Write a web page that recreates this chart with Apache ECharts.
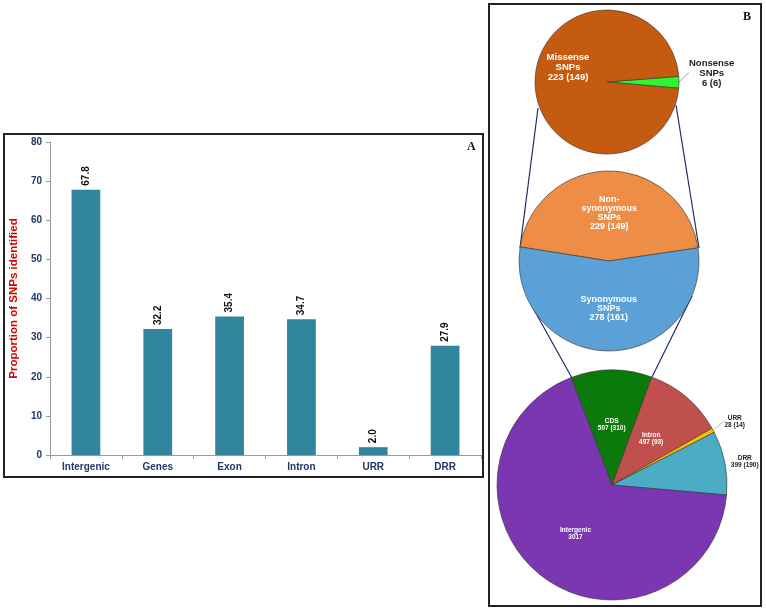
<!DOCTYPE html>
<html>
<head>
<meta charset="utf-8">
<script src="https://cdn.jsdelivr.net/npm/echarts@6/dist/echarts.min.js"></script>
<style>
html,body{margin:0;padding:0;background:#fff;}
#c{width:766px;height:612px;}
</style>
</head>
<body>
<div id="c"></div>
<script>
// ---- Panel A data ----
var barCategories = ['Intergenic', 'Genes', 'Exon', 'Intron', 'URR', 'DRR'];
var barValues = [67.8, 32.2, 35.4, 34.7, 2.0, 27.9];
var yTicks = [0, 10, 20, 30, 40, 50, 60, 70, 80];

// ---- Panel B data ----
var topNames = ['Nonsense\nSNPs', 'Missense\nSNPs'];
var topValues = [6, 223];
var topUnique = [6, 149];

var midNames = ['Non-\nsynonymous\nSNPs', 'Synonymous\nSNPs'];
var midValues = [229, 278];
var midUnique = [149, 161];

var botNames = ['CDS', 'Intron', 'URR', 'DRR', 'Intergenic'];
var botValues = [507, 497, 28, 399, 3017];
var botUnique = [310, 93, 14, 190, null];

var navy = '#1F3864';

function valText(v, u) { return u == null ? String(v) : v + ' (' + u + ')'; }

var chart = echarts.init(document.getElementById('c'));

var topColors = ['#2EF52E', '#C55A11'];
var midColors = ['#ED8D46', '#5BA0D7'];
var botColors = ['#0B7A0B', '#C0504D', '#FFC000', '#4BACC6', '#7B36B2'];

var topData = topNames.map(function (n, i) {
  var outside = i === 0;
  return {
    name: n, value: topValues[i],
    itemStyle: { color: topColors[i] },
    label: {
      position: outside ? 'outside' : 'inside',
      color: outside ? '#222' : '#fff',
      formatter: n + '\n' + valText(topValues[i], topUnique[i])
    },
    labelLine: { show: outside, length: 4, length2: 1, lineStyle: { color: '#888', width: 0.8 } }
  };
});

var midData = midNames.map(function (n, i) {
  return {
    name: n, value: midValues[i],
    itemStyle: { color: midColors[i] },
    label: { formatter: n + '\n' + valText(midValues[i], midUnique[i]) }
  };
});

var botData = botNames.map(function (n, i) {
  var outside = (n === 'URR' || n === 'DRR');
  return {
    name: n, value: botValues[i],
    itemStyle: { color: botColors[i] },
    label: {
      position: outside ? 'outside' : 'inside',
      color: outside ? '#222' : '#fff',
      formatter: n + '\n' + valText(botValues[i], botUnique[i])
    },
    labelLine: {
      show: n === 'URR', length: n === 'URR' ? 6 : 1, length2: n === 'URR' ? 1 : 0,
      lineStyle: { color: '#999', width: 0.7 }
    }
  };
});

function centerOutside(p, dy) {
  var r = p.labelRect;
  return { x: r.x + r.width / 2, y: r.y + r.height / 2 + dy, align: 'center', verticalAlign: 'middle' };
}

var lineStyle = { stroke: '#1F2D6B', lineWidth: 1.2 };

chart.setOption({
  animation: false,
  backgroundColor: '#fff',
  grid: { left: 47, right: 285, top: 142, bottom: 157, containLabel: false },
  xAxis: {
    type: 'category',
    data: barCategories,
    axisLine: { lineStyle: { color: '#999', width: 1 } },
    axisTick: { show: true, length: 4, alignWithLabel: false, lineStyle: { color: '#999' } },
    axisLabel: { color: navy, fontWeight: 'bold', fontSize: 10, fontFamily: 'Liberation Sans', margin: 7 }
  },
  yAxis: {
    type: 'value', min: yTicks[0], max: yTicks[yTicks.length - 1], interval: 10,
    name: 'Proportion of SNPs identified',
    nameLocation: 'middle', nameGap: 27,
    nameTextStyle: { color: '#D40000', fontWeight: 'bold', fontSize: 11.5, fontFamily: 'Liberation Sans' },
    axisLine: { show: true, lineStyle: { color: '#999', width: 1 } },
    axisTick: { show: true, length: 4, lineStyle: { color: '#999' } },
    splitLine: { show: false },
    axisLabel: { color: navy, fontWeight: 'bold', fontSize: 10, fontFamily: 'Liberation Sans', margin: 8 }
  },
  series: [
    {
      type: 'bar',
      data: barValues,
      barWidth: '40%',
      itemStyle: { color: '#31859C' },
      label: {
        show: true, position: 'top', rotate: 90, align: 'left', verticalAlign: 'middle',
        distance: 4, color: '#111', fontSize: 10, fontWeight: 'bold', fontFamily: 'Liberation Sans',
        formatter: function (p) { return p.value.toFixed(1); }
      }
    },
    {
      type: 'pie', center: [607, 82], radius: 72, startAngle: 4.5, clockwise: true,
      avoidLabelOverlap: false,
      itemStyle: { borderColor: '#333', borderWidth: 0.6 },
      label: { fontSize: 9.5, fontWeight: 'bold', lineHeight: 10, fontFamily: 'Liberation Sans', align: 'center' },
      emphasis: { disabled: true },
      labelLayout: function (p) {
        if (p.dataIndex === 1) return { dy: -14 };
        return centerOutside(p, -9);
      },
      data: topData
    },
    {
      type: 'pie', center: [609, 261], radius: 90, startAngle: 171, clockwise: true,
      avoidLabelOverlap: false,
      itemStyle: { borderColor: '#333', borderWidth: 0.6 },
      label: { position: 'inside', color: '#fff', fontSize: 9, fontWeight: 'bold', lineHeight: 9, fontFamily: 'Liberation Sans' },
      emphasis: { disabled: true },
      data: midData
    },
    {
      type: 'pie', center: [612, 485], radius: 115, startAngle: 110.8, clockwise: true,
      avoidLabelOverlap: false,
      itemStyle: { borderColor: '#333', borderWidth: 0.6 },
      label: { fontSize: 6.5, fontWeight: 'bold', lineHeight: 7, fontFamily: 'Liberation Sans' },
      emphasis: { disabled: true },
      labelLayout: function (p) {
        if (p.dataIndex === 2) return centerOutside(p, -6);
        if (p.dataIndex === 3) return centerOutside(p, -1);
        return {};
      },
      data: botData
    }
  ],
  graphic: [
    { type: 'rect', shape: { x: 4, y: 134, width: 479, height: 343 }, style: { fill: 'none', stroke: '#222', lineWidth: 2 }, z: 100 },
    { type: 'rect', shape: { x: 489, y: 4, width: 272, height: 602 }, style: { fill: 'none', stroke: '#222', lineWidth: 2 }, z: 100 },
    { type: 'text', x: 467, y: 141, style: { text: 'A', font: 'bold 12px "Liberation Serif"', fill: '#111' } },
    { type: 'text', x: 743, y: 11, style: { text: 'B', font: 'bold 12px "Liberation Serif"', fill: '#111' } },
    { type: 'line', shape: { x1: 538, y1: 108, x2: 520, y2: 248 }, style: lineStyle, z: 0 },
    { type: 'line', shape: { x1: 676, y1: 105, x2: 699, y2: 248 }, style: lineStyle, z: 0 },
    { type: 'line', shape: { x1: 533, y1: 308, x2: 572, y2: 378 }, style: lineStyle, z: 0 },
    { type: 'line', shape: { x1: 692, y1: 296, x2: 652, y2: 377 }, style: lineStyle, z: 0 }
  ]
});
</script>
</body>
</html>
